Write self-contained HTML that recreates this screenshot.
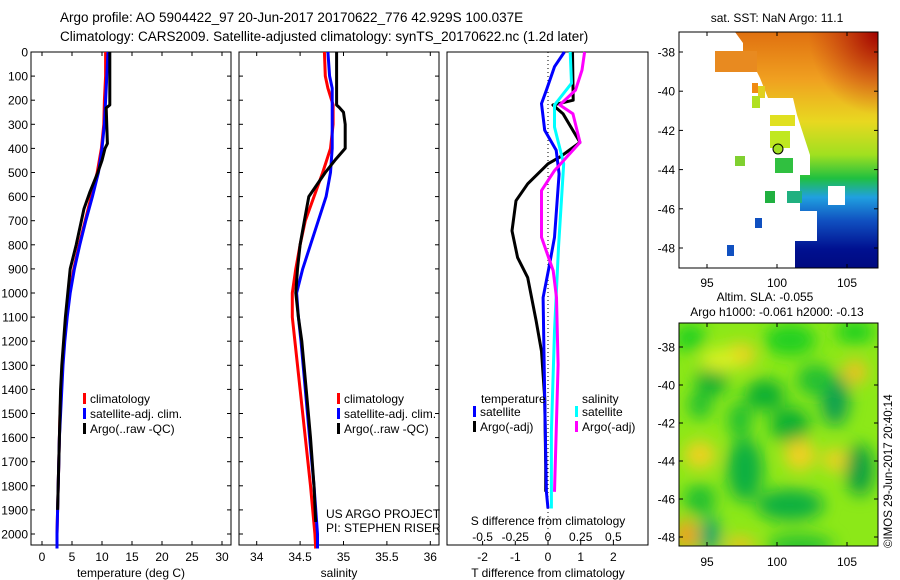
<!DOCTYPE html>
<html><head><meta charset="utf-8"><style>
html,body{margin:0;padding:0;background:#fff;}
svg{display:block;font-family:"Liberation Sans",sans-serif;}
text{fill:#000;}
</style></head><body>
<svg id="fig" width="900" height="580" viewBox="0 0 900 580" xmlns="http://www.w3.org/2000/svg">
<defs>
<linearGradient id="sstg" x1="0" y1="0" x2="0" y2="1">
<stop offset="0" stop-color="#e07010"/><stop offset="0.2" stop-color="#f0a020"/><stop offset="0.38" stop-color="#e8d820"/><stop offset="0.52" stop-color="#a0e020"/><stop offset="0.62" stop-color="#20c040"/><stop offset="0.7" stop-color="#20a0e0"/><stop offset="0.8" stop-color="#1050c0"/><stop offset="0.92" stop-color="#001090"/><stop offset="1" stop-color="#000a80"/>
</linearGradient>
<radialGradient id="redc" cx="1" cy="0" r="0.35"><stop offset="0" stop-color="#a00000"/><stop offset="1" stop-color="#c03010" stop-opacity="0"/></radialGradient>
<filter id="blur"><feGaussianBlur stdDeviation="8"/></filter>
<clipPath id="clipSla"><rect x="679" y="323" width="199" height="223"/></clipPath>
<clipPath id="clipSst"><rect x="679" y="32" width="199" height="236"/></clipPath>
</defs>
<g id="titles">
<text x="60" y="22" font-size="13.5">Argo profile: AO 5904422_97 20-Jun-2017 20170622_776 42.929S 100.037E</text>
<text x="60" y="41" font-size="13.5">Climatology: CARS2009. Satellite-adjusted climatology: synTS_20170622.nc (1.2d later)</text>
</g>
<g id="plots"></g>
<g id="maps">
<g clip-path="url(#clipSst)">
<rect x="679" y="32" width="199" height="236" fill="url(#sstg)"/>
<rect x="679" y="32" width="199" height="236" fill="url(#redc)"/>
<polygon fill="#fff" points="679,32 735,32 743,43 743,51 715,51 715,72 757,72 760,78 768,98 793,98 797,115 810,155 810,175 800,175 800,211 817,211 817,241 795,241 795,268 679,268"/>
<rect x="715" y="51" width="42" height="21" fill="#e88a20"/>
<rect x="752" y="83" width="6" height="10" fill="#f08a10"/><rect x="758" y="86" width="7" height="12" fill="#e0d020"/>
<rect x="752" y="96" width="8" height="12" fill="#b0e020"/><rect x="770" y="115" width="25" height="11" fill="#e0e020"/>
<rect x="770" y="131" width="20" height="17" fill="#c0e820"/>
<rect x="735" y="156" width="10" height="10" fill="#80d030"/><rect x="775" y="158" width="18" height="15" fill="#30c040"/>
<rect x="765" y="191" width="10" height="12" fill="#20b040"/><rect x="787" y="191" width="15" height="12" fill="#20b080"/>
<rect x="755" y="218" width="7" height="10" fill="#1050c0"/><rect x="727" y="245" width="7" height="11" fill="#1050c0"/>
<rect x="828" y="186" width="17" height="19" fill="#fff"/>
<circle cx="778" cy="149" r="5" fill="#a0e020" stroke="#000"/>
</g>
<rect x="679" y="32" width="199" height="236" fill="none" stroke="#000"/>
<text x="777" y="22" font-size="12" text-anchor="middle">sat. SST: NaN Argo: 11.1</text>
<g clip-path="url(#clipSla)">
<rect x="679" y="323" width="199" height="223" fill="#8ce818"/>
<g filter="url(#blur)">
<ellipse cx="690" cy="338" rx="16" ry="14" fill="#20d020"/><ellipse cx="790" cy="340" rx="26" ry="16" fill="#20d020"/>
<ellipse cx="855" cy="332" rx="20" ry="12" fill="#20d020"/>
<ellipse cx="740" cy="355" rx="16" ry="12" fill="#f0d020"/><ellipse cx="855" cy="372" rx="12" ry="12" fill="#f0c020"/>
<ellipse cx="712" cy="380" rx="16" ry="16" fill="#10b030"/>
<ellipse cx="765" cy="395" rx="20" ry="16" fill="#10b030"/><ellipse cx="790" cy="425" rx="20" ry="18" fill="#10b030"/>
<ellipse cx="835" cy="400" rx="14" ry="26" fill="#10a050"/><ellipse cx="815" cy="380" rx="18" ry="16" fill="#20c030"/>
<ellipse cx="700" cy="405" rx="12" ry="14" fill="#20c030"/><ellipse cx="740" cy="420" rx="12" ry="18" fill="#20c030"/>
<ellipse cx="745" cy="470" rx="18" ry="32" fill="#10b040"/><ellipse cx="790" cy="505" rx="34" ry="16" fill="#10b040"/>
<ellipse cx="860" cy="470" rx="14" ry="26" fill="#10a040"/><ellipse cx="700" cy="500" rx="16" ry="16" fill="#20c030"/>
<ellipse cx="700" cy="455" rx="16" ry="14" fill="#f0d020"/><ellipse cx="720" cy="360" rx="20" ry="12" fill="#d8f020"/>
<ellipse cx="800" cy="455" rx="16" ry="16" fill="#f0d020"/><ellipse cx="835" cy="460" rx="12" ry="12" fill="#f0d020"/>
<ellipse cx="686" cy="535" rx="12" ry="16" fill="#f0a020"/><ellipse cx="710" cy="535" rx="10" ry="18" fill="#10a070"/>
<ellipse cx="800" cy="545" rx="34" ry="10" fill="#20c030"/><ellipse cx="740" cy="545" rx="16" ry="8" fill="#f0c020"/>
</g>
</g>
<rect x="679" y="323" width="199" height="223" fill="none" stroke="#000"/>
<text x="765" y="301" font-size="12" text-anchor="middle">Altim. SLA: -0.055</text>
<text x="777" y="316" font-size="12" text-anchor="middle">Argo h1000: -0.061 h2000: -0.13</text>
<text x="0" y="0" font-size="11.5" transform="translate(892,548) rotate(-90)">©IMOS 29-Jun-2017 20:40:14</text>
</g>
</svg>
<script>
// ---------- data ----------
const depthTicks = [0,100,200,300,400,500,600,700,800,900,1000,1100,1200,1300,1400,1500,1600,1700,1800,1900,2000];
const tempTicks = [0,5,10,15,20,25,30];
const salTicks = [34,34.5,35,35.5,36];
const tdiffTicks = [-2,-1,0,1,2];
const sdiffTicks = [-0.5,-0.25,0,0.25,0.5];
const sdiffTickLabels = ["-0.5","-0.25","0","0.25","0.5"];

const tClimDepth = [0,100,200,300,400,500,600,700,800,900,1000,1100,1200,1300,1400,1500,1600,1700,1800,1900,2000,2060];
const tClim = [10.6,10.6,10.4,10.3,9.9,9.2,8.2,7.2,6.2,5.3,4.6,4.1,3.7,3.4,3.2,3.0,2.9,2.8,2.7,2.6,2.5,2.5];
const tSat  = [11.0,10.8,10.6,10.4,10.0,9.4,8.4,7.3,6.3,5.4,4.7,4.2,3.8,3.5,3.3,3.1,2.9,2.8,2.7,2.6,2.5,2.5];
const tArgoDepth = [0,220,232,380,400,450,500,580,650,800,900,1000,1100,1200,1300,1400,1500,1600,1700,1800,1900];
const tArgo = [11.3,11.3,10.7,10.9,10.5,10.0,9.3,8.0,7.0,5.7,4.7,4.3,3.9,3.6,3.3,3.1,3.0,2.9,2.8,2.7,2.6];

const sClimDepth = [0,100,150,220,300,400,500,600,700,800,900,1000,1100,1200,1400,1600,1800,2000,2060];
const sClim = [34.78,34.79,34.82,34.88,34.88,34.85,34.76,34.66,34.56,34.50,34.45,34.41,34.41,34.44,34.50,34.56,34.62,34.67,34.68];
const sSat  = [34.82,34.84,34.87,34.87,34.87,34.87,34.85,34.80,34.71,34.62,34.53,34.46,34.48,34.51,34.56,34.61,34.66,34.70,34.70];
const sArgoDepth = [0,220,230,250,300,400,450,500,600,700,800,900,1000,1100,1200,1400,1600,1800,1950];
const sArgo = [34.92,34.92,34.95,35.0,35.02,35.02,34.90,34.79,34.60,34.55,34.50,34.47,34.45,34.48,34.52,34.57,34.62,34.66,34.68];

const dTDepth = [0,200,220,256,375,436,464,547,617,742,853,936,1117,1242,1436,1714,1825];
const dTArgo = [0.75,0.77,0.15,0.46,0.98,0.36,0.0,-0.62,-0.98,-1.1,-0.93,-0.62,-0.36,-0.2,-0.1,-0.07,-0.07];
const dTSatDepth = [0,61,158,214,325,408,506,769,880,1019,1436,1825,1894];
const dTSat = [0.5,0.2,-0.05,-0.2,-0.1,0.25,0.34,0.2,0.05,-0.15,-0.1,-0.05,0.0];
const dSSatDepth = [0,130,220,311,464,811,1158,1575,1894];
const dSSat = [0.17,0.18,0.05,0.05,0.12,0.08,0.05,0.026,0.026];
const dSArgoDepth = [0,75,158,220,256,375,492,575,769,908,1019,1297,1825];
const dSArgo = [0.28,0.26,0.21,0.09,0.19,0.245,0.05,-0.05,-0.05,0.04,0.065,0.077,0.05];

const lonTicks = [95,100,105];
const latTicks = [-38,-40,-42,-44,-46,-48];

// ---------- axes ----------
const NS = "http://www.w3.org/2000/svg";
const plots = document.getElementById('plots');
const Y0 = 52, YB = 545;
const yD = d => Y0 + d * 0.241;
function el(tag, attrs, parent) {
  const e = document.createElementNS(NS, tag);
  for (const k in attrs) e.setAttribute(k, attrs[k]);
  (parent || plots).appendChild(e);
  return e;
}
function txt(x, y, s, size, anchor, parent) {
  const t = el('text', {x: x, y: y, 'font-size': size, 'text-anchor': anchor || 'middle'}, parent);
  t.textContent = s;
  return t;
}
function line(xs, ds, fx, color, w, name) {
  let p = '';
  for (let i = 0; i < xs.length; i++) p += (i ? 'L' : 'M') + fx(xs[i]).toFixed(1) + ',' + yD(ds[i]).toFixed(1);
  const e = el('path', {d: p, fill: 'none', stroke: color, 'stroke-width': w, 'stroke-linejoin': 'round'});
  
  
  return e;
}
function panel(x0, x1, name, showDepth) {
  const g = el('rect', {x: x0, y: Y0, width: x1 - x0, height: YB - Y0, fill: 'none', stroke: '#000'});
  
  
  depthTicks.forEach(d => {
    el('line', {x1: x0, x2: x0 + 4, y1: yD(d), y2: yD(d), stroke: '#000'});
    el('line', {x1: x1 - 4, x2: x1, y1: yD(d), y2: yD(d), stroke: '#000'});
    if (showDepth) {
      const t = txt(x0 - 3, yD(d) + 4.5, String(d), 12, 'end');
      
      
    }
  });
}
function xTicks(vals, labels, fx, y, top) {
  vals.forEach((v, i) => {
    el('line', {x1: fx(v), x2: fx(v), y1: YB, y2: YB - 4, stroke: '#000'});
    if (top) el('line', {x1: fx(v), x2: fx(v), y1: Y0, y2: Y0 + 4, stroke: '#000'});
    const t = txt(fx(v), y, labels[i], 12);
    
    
  });
}
function legendEntry(x, y, color, label) {
  el('rect', {x: x, y: y - 10, width: 3, height: 11, fill: color});
  const t = txt(x + 7, y, label, 12, 'start');
  
  
}

// panel 1: temperature
const fT = v => 42 + 6.0 * v;
panel(31, 231, 'temperature-panel', true);
xTicks(tempTicks, tempTicks.map(String), fT, 561, true);
let t = txt(131, 577, 'temperature (deg C)', 12);


line(tClim, tClimDepth, fT, '#f00', 3, 'temp-climatology-line');
line(tSat, tClimDepth, fT, '#00f', 3, 'temp-satellite-line');
line(tArgo, tArgoDepth, fT, '#000', 3, 'temp-argo-line');
legendEntry(83, 403, '#f00', 'climatology');
legendEntry(83, 418, '#00f', 'satellite-adj. clim.');
legendEntry(83, 433, '#000', 'Argo(..raw -QC)');

// panel 2: salinity
const fS = v => 256.7 + 86.8 * (v - 34);
panel(239, 439, 'salinity-panel', false);
xTicks(salTicks, salTicks.map(String), fS, 561, true);
t = txt(339, 577, 'salinity', 12);


line(sClim, sClimDepth, fS, '#f00', 3, 'sal-climatology-line');
line(sSat, sClimDepth, fS, '#00f', 3, 'sal-satellite-line');
line(sArgo, sArgoDepth, fS, '#000', 3, 'sal-argo-line');
legendEntry(337, 403, '#f00', 'climatology');
legendEntry(337, 418, '#00f', 'satellite-adj. clim.');
legendEntry(337, 433, '#000', 'Argo(..raw -QC)');
t = txt(326, 518, 'US ARGO PROJECT', 12, 'start');


t = txt(326, 532, 'PI: STEPHEN RISER', 12, 'start');



// panel 3: differences
const fdT = v => 548 + 32.7 * v;
const fdS = v => 548 + 130.8 * v;
el('rect', {x: 447, y: Y0, width: 201, height: YB - Y0, fill: 'none', stroke: '#000'});
el('line', {x1: 548, x2: 548, y1: Y0, y2: YB, stroke: '#000', 'stroke-dasharray': '1,3'});
tdiffTicks.forEach(v => {
  el('line', {x1: fdT(v), x2: fdT(v), y1: YB, y2: YB - 4, stroke: '#000'});
  t = txt(fdT(v), 561, String(v), 12);
  
  
});
sdiffTicks.forEach((v, i) => {
  t = txt(fdS(v), 541, sdiffTickLabels[i], 12);
  
  
});
t = txt(548, 525, 'S difference from climatology', 12);


t = txt(548, 577, 'T difference from climatology', 12);


line(dTArgo, dTDepth, fdT, '#000', 3, 'tdiff-argo-line');
line(dTSat, dTSatDepth, fdT, '#00f', 3, 'tdiff-satellite-line');
line(dSSat, dSSatDepth, fdS, '#0ff', 3, 'sdiff-satellite-line');
line(dSArgo, dSArgoDepth, fdS, '#f0f', 3, 'sdiff-argo-line');
t = txt(481, 403, 'temperature', 12, 'start');


t = txt(582, 403, 'salinity', 12, 'start');


legendEntry(473, 416, '#00f', 'satellite');
legendEntry(473, 431, '#000', 'Argo(-adj)');
legendEntry(575, 416, '#0ff', 'satellite');
legendEntry(575, 431, '#f0f', 'Argo(-adj)');

// map axes
const maps = document.getElementById('maps');
const fLon = v => 707 + 14 * (v - 95);
function mapAxes(top, bottom, latY, labelY, name) {
  lonTicks.forEach(v => {
    el('line', {x1: fLon(v), x2: fLon(v), y1: bottom, y2: bottom - 4, stroke: '#000'}, maps);
    el('line', {x1: fLon(v), x2: fLon(v), y1: top, y2: top + 4, stroke: '#000'}, maps);
    const tt = txt(fLon(v), labelY, String(v), 12, 'middle', maps);
    
    
  });
  latTicks.forEach(v => {
    const y = latY(v);
    el('line', {x1: 679, x2: 683, y1: y, y2: y, stroke: '#000'}, maps);
    el('line', {x1: 874, x2: 878, y1: y, y2: y, stroke: '#000'}, maps);
    const tt = txt(675, y + 4.5, String(v), 12, 'end', maps);
    
    
  });
}
mapAxes(32, 268, v => 52 + 19.6 * (-38 - v), 287, 'sst-map');
mapAxes(323, 546, v => 347 + 19.0 * (-38 - v), 566, 'sla-map');
</script>
</body></html>
